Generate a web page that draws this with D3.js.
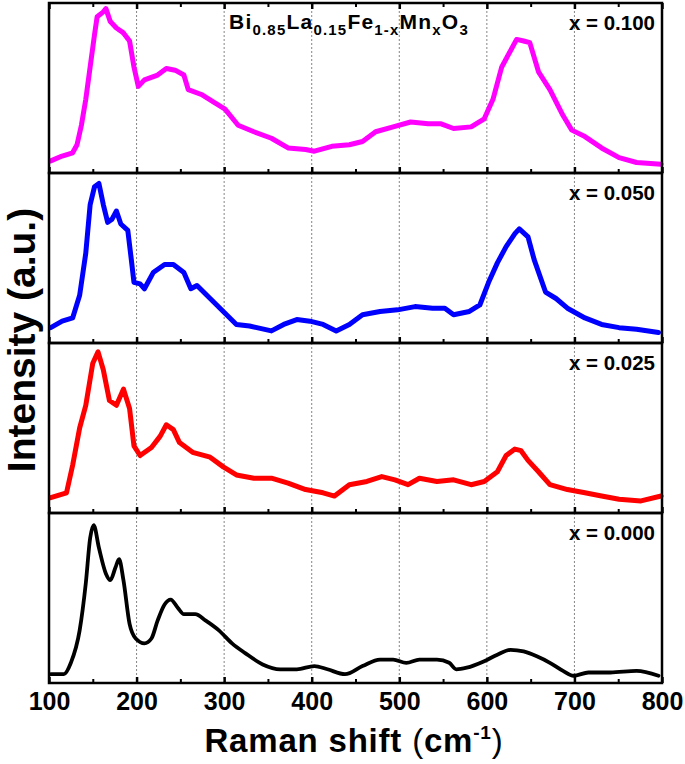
<!DOCTYPE html>
<html>
<head>
<meta charset="utf-8">
<script src="https://cdn.jsdelivr.net/npm/d3@7"></script>
<style>
  html, body { margin: 0; padding: 0; background: #fff; }
  svg { display: block; }
</style>
</head>
<body>
<svg id="chart" width="685" height="764"></svg>
<script>
// Raman shift (cm-1) vs normalised intensity (0 = panel bottom, 1 = panel top)
const shiftX100 = [102,115,127,132,137,142,147,152,155,162,165,170,177,185,192,197,202,209,224,234,244,254,259,274,289,301,316,334,354,373,393,403,423,443,458,473,493,513,533,547,562,582,597,607,617,627,634,642,649,659,672,687,697,712,731,751,771,799];
const intX100 = [0.05,0.08,0.10,0.15,0.27,0.43,0.63,0.83,0.94,0.97,0.99,0.91,0.87,0.84,0.79,0.63,0.51,0.55,0.58,0.62,0.61,0.58,0.49,0.46,0.41,0.37,0.27,0.23,0.19,0.13,0.12,0.11,0.14,0.15,0.17,0.23,0.26,0.29,0.28,0.28,0.25,0.26,0.31,0.43,0.63,0.73,0.80,0.79,0.78,0.60,0.49,0.33,0.24,0.20,0.13,0.07,0.04,0.03];

const shiftX050 = [102,115,127,135,142,147,152,157,162,167,172,177,182,190,194,197,204,209,219,232,242,254,262,269,284,299,314,329,354,368,383,398,413,428,443,458,478,498,518,538,552,562,580,592,602,612,622,632,637,647,654,667,679,692,712,731,751,771,796];
const intX050 = [0.07,0.11,0.13,0.27,0.53,0.83,0.94,0.96,0.83,0.72,0.74,0.79,0.71,0.67,0.49,0.35,0.34,0.31,0.41,0.46,0.46,0.41,0.31,0.33,0.25,0.17,0.09,0.08,0.05,0.09,0.12,0.11,0.09,0.05,0.09,0.15,0.17,0.18,0.20,0.19,0.19,0.15,0.17,0.21,0.35,0.47,0.57,0.65,0.68,0.63,0.49,0.29,0.25,0.19,0.13,0.09,0.07,0.06,0.04];

const shiftX025 = [102,120,127,135,142,150,156,162,169,177,185,192,197,204,217,227,234,242,249,264,284,299,314,334,354,373,393,413,426,443,463,480,495,510,523,543,562,582,597,612,622,632,639,647,659,672,692,712,731,751,776,799];
const intX025 = [0.07,0.10,0.27,0.50,0.64,0.90,0.97,0.86,0.67,0.64,0.74,0.62,0.39,0.33,0.38,0.45,0.52,0.49,0.41,0.35,0.32,0.26,0.21,0.19,0.19,0.16,0.12,0.10,0.08,0.15,0.17,0.20,0.18,0.15,0.19,0.17,0.18,0.15,0.17,0.23,0.33,0.37,0.36,0.30,0.23,0.15,0.12,0.10,0.08,0.06,0.05,0.08];

const shiftX000 = [102,117,125,135,142,147,151,157,165,170,176,180,185,192,199,209,217,224,232,239,247,254,267,279,294,309,324,344,364,383,403,418,438,458,478,493,508,523,543,557,565,577,597,612,627,642,657,672,687,699,716,741,771,796];
const intX000 = [0.03,0.03,0.10,0.30,0.59,0.87,0.95,0.81,0.65,0.61,0.69,0.74,0.61,0.34,0.25,0.22,0.25,0.36,0.46,0.49,0.44,0.40,0.40,0.36,0.30,0.22,0.16,0.09,0.06,0.06,0.08,0.06,0.03,0.08,0.12,0.12,0.10,0.12,0.12,0.10,0.06,0.07,0.11,0.15,0.18,0.17,0.14,0.10,0.05,0.02,0.04,0.04,0.05,0.02];

const panelLabels = ['x = 0.100', 'x = 0.050', 'x = 0.025', 'x = 0.000'];
const panelColors = ['#ff00ff', '#0000ff', '#ff0000', '#000000'];
const xTicks = [100, 200, 300, 400, 500, 600, 700, 800];
const xMinorTicks = [150, 250, 350, 450, 550, 650, 750];
const gridValues = [200, 300, 400, 500, 600, 700];

const series = [
  { x: shiftX100, y: intX100 },
  { x: shiftX050, y: intX050 },
  { x: shiftX025, y: intX025 },
  { x: shiftX000, y: intX000 }
];

const svg = d3.select('#chart');
const plotLeft = 49, plotRight = 662, plotTop = 3, plotBottom = 683;
const panelH = (plotBottom - plotTop) / 4;
const font = '"Liberation Sans", Arial, Helvetica, sans-serif';

const x = d3.scaleLinear().domain([100, 800]).range([plotLeft, plotRight]);

series.forEach((s, i) => {
  const y0 = plotTop + i * panelH;
  const y = d3.scaleLinear().domain([0, 1]).range([y0 + panelH - 4, y0 + 4]);
  const g = svg.append('g');

  // dotted grid
  g.selectAll('line.grid')
    .data(gridValues)
    .enter()
    .append('line')
    .attr('x1', d => x(d)).attr('x2', d => x(d))
    .attr('y1', y0).attr('y2', y0 + panelH)
    .attr('stroke', '#666')
    .attr('stroke-width', 0.8)
    .attr('stroke-dasharray', '2,2');

  const pts = s.x.map((v, k) => [v, s.y[k]]);
  const line = d3.line()
    .x(d => x(d[0]))
    .y(d => y(d[1]))
    .curve(i === 3 ? d3.curveMonotoneX : d3.curveLinear);

  g.append('path')
    .datum(pts)
    .attr('d', line)
    .attr('fill', 'none')
    .attr('stroke', panelColors[i])
    .attr('stroke-width', i === 3 ? 3.8 : 5)
    .attr('stroke-linejoin', 'round')
    .attr('stroke-linecap', 'round');

  // inward ticks on the bottom edge
  g.append('g')
    .attr('transform', `translate(0,${y0 + panelH})`)
    .call(d3.axisTop(x).tickValues(xTicks).tickSize(6).tickFormat(''))
    .call(a => a.select('.domain').remove())
    .call(a => a.selectAll('line').attr('stroke-width', 2.5));
  g.append('g')
    .attr('transform', `translate(0,${y0 + panelH})`)
    .call(d3.axisTop(x).tickValues(xMinorTicks).tickSize(4).tickFormat(''))
    .call(a => a.select('.domain').remove())
    .call(a => a.selectAll('line').attr('stroke-width', 2));

  if (i === 0) {
    g.append('g')
      .attr('transform', `translate(0,${y0})`)
      .call(d3.axisBottom(x).tickValues(xTicks).tickSize(6).tickFormat(''))
      .call(a => a.select('.domain').remove())
      .call(a => a.selectAll('line').attr('stroke-width', 2.5));
    g.append('g')
      .attr('transform', `translate(0,${y0})`)
      .call(d3.axisBottom(x).tickValues(xMinorTicks).tickSize(4).tickFormat(''))
      .call(a => a.select('.domain').remove())
      .call(a => a.selectAll('line').attr('stroke-width', 2));
  }

  g.append('rect')
    .attr('x', plotLeft).attr('y', y0)
    .attr('width', plotRight - plotLeft).attr('height', panelH)
    .attr('fill', 'none')
    .attr('stroke', '#000')
    .attr('stroke-width', 2.5);

  g.append('text')
    .attr('x', plotRight - 7)
    .attr('y', y0 + 27)
    .attr('text-anchor', 'end')
    .style('font-family', font)
    .style('font-weight', 'bold')
    .style('font-size', '20.5px')
    .text(panelLabels[i]);
});

// bottom tick labels
svg.append('g')
  .attr('transform', `translate(0,${plotBottom})`)
  .call(d3.axisBottom(x).tickValues(xTicks).tickSize(0).tickPadding(9))
  .call(a => a.select('.domain').remove())
  .call(a => a.selectAll('text')
    .style('font-family', font)
    .style('font-weight', 'bold')
    .style('font-size', '25px')
    .attr('fill', '#000'));

// compound formula
const title = svg.append('text')
  .attr('x', 349).attr('y', 29)
  .attr('text-anchor', 'middle')
  .style('font-family', font)
  .style('font-weight', 'bold')
  .style('letter-spacing', '1.2px')
  .style('font-size', '21px');
const parts = [['Bi', 0], ['0.85', 1], ['La', 0], ['0.15', 1], ['Fe', 0], ['1-x', 1], ['Mn', 0], ['x', 1], ['O', 0], ['3', 1]];
let prevSub = 0;
parts.forEach(([t, sub]) => {
  const shift = (sub ? 6 : 0) - (prevSub ? 6 : 0);
  title.append('tspan')
    .attr('dy', shift)
    .style('font-size', sub ? '15px' : '21px')
    .text(t);
  prevSub = sub;
});

// x axis title
const xt = svg.append('text')
  .attr('x', 354).attr('y', 752)
  .attr('text-anchor', 'middle')
  .style('font-family', font)
  .style('font-weight', 'bold')
  .style('letter-spacing', '0.8px')
  .style('font-size', '33px');
xt.append('tspan').text('Raman shift ');
xt.append('tspan').style('font-weight', 'normal').text('(');
xt.append('tspan').text('cm');
xt.append('tspan').attr('dy', -13).style('font-size', '19px').text('-1');
xt.append('tspan').attr('dy', 13).style('font-weight', 'normal').text(')');

// y axis title
svg.append('text')
  .attr('transform', `translate(35,340) rotate(-90)`)
  .attr('text-anchor', 'middle')
  .style('font-family', font)
  .style('font-weight', 'bold')
  .style('font-size', '39px')
  .text('Intensity (a.u.)');
</script>
</body>
</html>
